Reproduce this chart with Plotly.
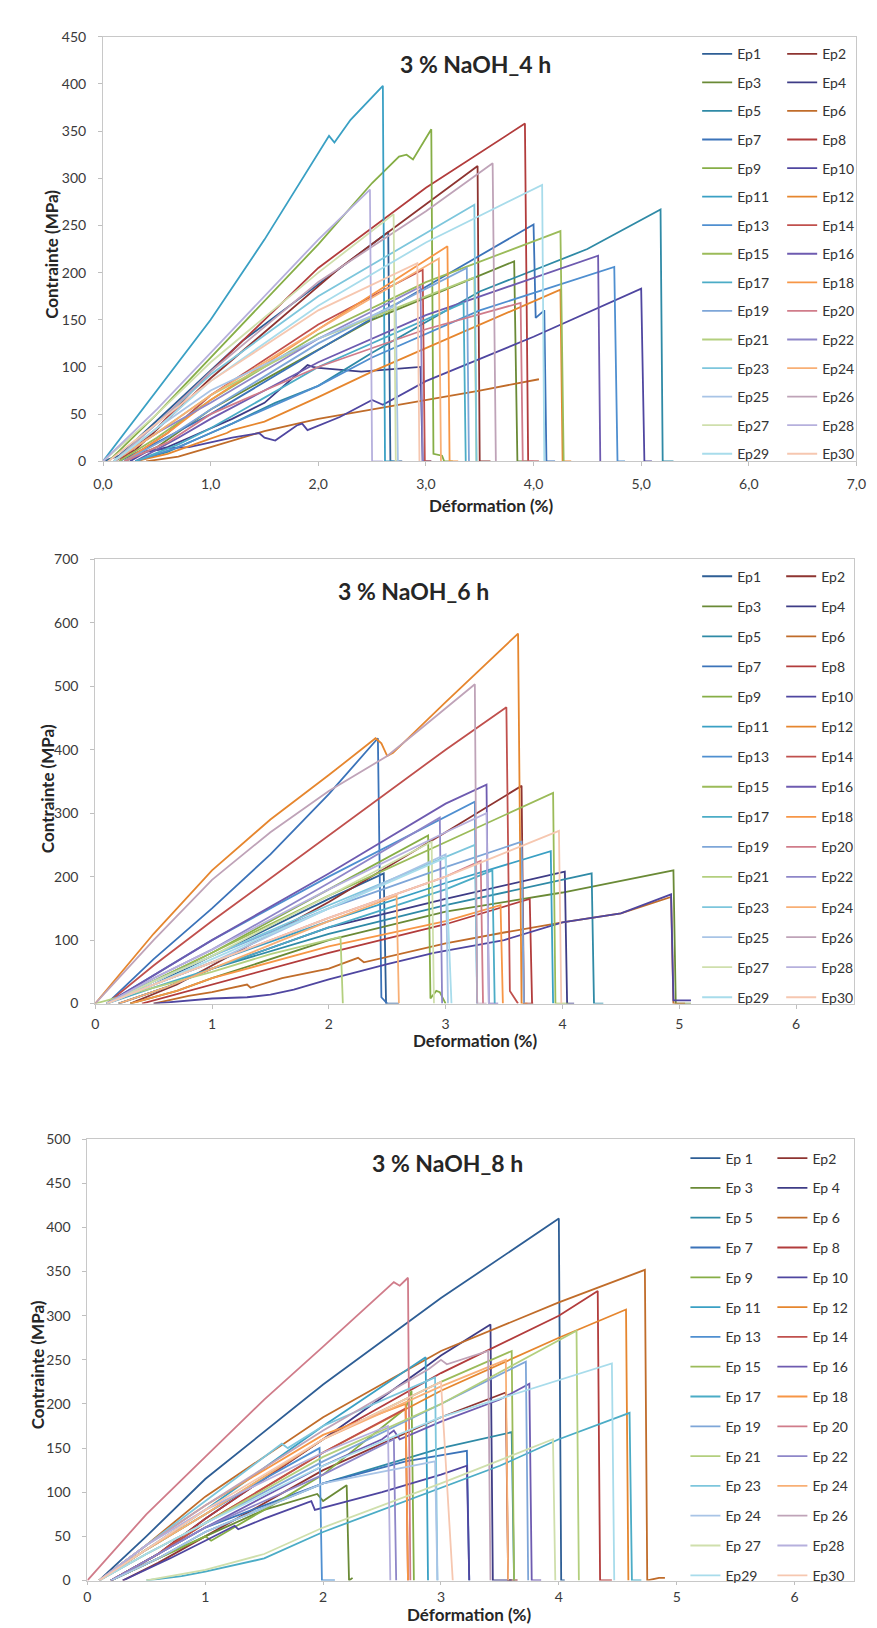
import plotly.graph_objects as go

W, H = 877, 1628

# ---------------- data : 3 % NaOH 4 h ----------------
names_4h = ["Ep1", "Ep2", "Ep3", "Ep4", "Ep5", "Ep6", "Ep7", "Ep8", "Ep9", "Ep10",
            "Ep11", "Ep12", "Ep13", "Ep14", "Ep15", "Ep16", "Ep17", "Ep18", "Ep19", "Ep20",
            "Ep21", "Ep22", "Ep23", "Ep24", "Ep25", "Ep26", "Ep27", "Ep28", "Ep29", "Ep30"]
strain_4h = [
    [0.0, 0.15, 1.3, 2.65, 2.67, 2.78],
    [0.1, 0.3, 1.0, 2.2, 3.48, 3.5, 3.6],
    [0.2, 0.5, 1.0, 2.5, 3.82, 3.85, 3.95],
    [0.2, 0.35, 0.5, 0.6, 0.8, 1.0, 1.2, 1.5, 1.8, 1.9, 1.95, 2.0, 2.4, 2.95, 2.97, 3.05],
    [0.3, 0.6, 0.9, 1.2, 1.6, 2.0, 2.5, 3.5, 4.5, 5.18, 5.2, 5.3],
    [0.4, 0.7, 1.0, 1.2, 1.5, 2.0, 2.5, 3.0, 3.5, 4.05],
    [0.15, 0.5, 1.0, 2.0, 3.0, 4.0, 4.02, 4.1, 4.12, 4.2],
    [0.15, 0.5, 1.0, 2.0, 3.0, 3.92, 3.95, 4.05],
    [0.05, 0.5, 1.0, 1.5, 2.0, 2.5, 2.75, 2.82, 2.88, 3.05, 3.07, 3.15, 3.17, 3.25],
    [0.25, 0.4, 0.6, 0.8, 1.0, 1.2, 1.45, 1.5, 1.6, 1.8, 1.85, 1.9, 2.2, 2.5, 2.6, 3.0, 4.0, 5.0, 5.03, 5.1],
    [0.0, 0.3, 0.7, 1.0, 1.5, 2.1, 2.15, 2.3, 2.6, 2.62, 2.7],
    [0.3, 0.6, 0.9, 1.15, 1.2, 1.5, 2.0, 2.5, 3.0, 3.5, 4.25, 4.27, 4.35],
    [0.3, 0.7, 1.0, 1.5, 2.0, 2.5, 3.5, 4.75, 4.78, 4.85],
    [0.2, 0.6, 1.0, 2.0, 2.97, 2.99, 3.05],
    [0.15, 0.5, 1.0, 2.0, 3.0, 4.25, 4.28],
    [0.3, 0.7, 1.0, 2.0, 3.0, 4.6, 4.62],
    [0.3, 0.7, 1.0, 2.0, 3.35, 3.37],
    [0.2, 0.6, 1.0, 2.0, 3.2, 3.22, 3.3],
    [0.2, 0.6, 1.0, 2.0, 3.38, 3.4],
    [0.2, 0.6, 1.0, 2.0, 3.0, 3.88, 3.9, 4.0],
    [0.1, 0.5, 1.0, 2.0, 3.45, 3.47],
    [0.1, 0.5, 1.0, 2.0, 2.95, 2.97],
    [0.1, 0.5, 1.0, 2.0, 3.45, 3.47],
    [0.1, 0.5, 1.0, 2.0, 3.12, 3.14],
    [0.1, 0.5, 1.0, 2.0, 2.72, 2.74],
    [0.1, 0.5, 1.0, 2.0, 3.0, 3.62, 3.65],
    [0.0, 0.5, 1.0, 2.0, 2.7, 2.72],
    [0.0, 0.5, 1.0, 1.5, 2.0, 2.48, 2.5, 2.6],
    [0.1, 0.5, 1.0, 2.0, 3.0, 4.08, 4.1],
    [0.05, 0.5, 1.0, 2.0, 2.92, 2.94],
]
stress_4h = [
    [0, 6, 128, 243, 0, 0],
    [0, 12, 88, 205, 313, 0, 0],
    [0, 15, 55, 150, 212, 0, 0],
    [0, 10, 12, 15, 25, 35, 45, 62, 92, 102, 100, 99, 95, 100, 0, 0],
    [0, 10, 25, 40, 62, 80, 115, 180, 225, 267, 0, 0],
    [0, 5, 15, 22, 32, 45, 55, 65, 75, 87],
    [0, 20, 50, 118, 185, 251, 152, 160, 0, 0],
    [0, 35, 95, 205, 290, 358, 0, 0],
    [0, 50, 110, 170, 230, 295, 323, 325, 320, 352, 8, 6, 0, 0],
    [0, 10, 14, 15, 20, 25, 30, 25, 22, 38, 40, 33, 47, 65, 60, 85, 132, 183, 0, 0],
    [0, 45, 105, 150, 235, 345, 338, 362, 398, 0, 0],
    [0, 8, 20, 30, 33, 42, 68, 95, 120, 145, 182, 0, 0],
    [0, 15, 30, 55, 80, 110, 160, 206, 0, 0],
    [0, 30, 70, 145, 203, 0, 0],
    [0, 25, 65, 135, 190, 244, 0],
    [0, 25, 45, 105, 155, 218, 0],
    [0, 18, 35, 100, 168, 0],
    [0, 30, 65, 140, 228, 0, 0],
    [0, 25, 55, 125, 205, 0],
    [0, 20, 50, 100, 140, 168, 0, 0],
    [0, 30, 70, 130, 195, 0],
    [0, 30, 62, 130, 185, 0],
    [0, 40, 92, 175, 272, 0],
    [0, 30, 70, 140, 215, 0],
    [0, 35, 75, 130, 165, 0],
    [0, 40, 95, 190, 265, 316, 0],
    [0, 50, 105, 200, 262, 0],
    [0, 55, 115, 175, 235, 288, 0, 0],
    [0, 35, 85, 165, 232, 293, 0],
    [0, 40, 85, 160, 210, 0],
]

# ---------------- data : 3 % NaOH 6 h ----------------
names_6h = ["Ep1", "Ep2", "Ep3", "Ep4", "Ep5", "Ep6", "Ep7", "Ep8", "Ep9", "Ep10",
            "Ep11", "Ep12", "Ep13", "Ep14", "Ep15", "Ep16", "Ep17", "Ep18", "Ep19", "Ep20",
            "Ep21", "Ep22", "Ep23", "Ep24", "Ep25", "Ep26", "Ep27", "Ep28", "Ep29", "Ep30"]
strain_6h = [
    [0.1, 0.5, 1.0, 2.0, 2.47, 2.49, 2.6],
    [0.3, 0.7, 1.0, 2.0, 3.0, 3.65, 3.67, 3.75],
    [0.3, 0.7, 1.0, 2.0, 3.0, 4.0, 4.95, 4.97, 5.1],
    [0.2, 0.6, 1.0, 2.0, 3.0, 4.02, 4.04, 4.1],
    [0.2, 0.6, 1.0, 2.0, 3.0, 4.25, 4.27, 4.35],
    [0.5, 0.8, 1.0, 1.3, 1.33, 1.6, 2.0, 2.25, 2.3, 2.9, 3.0, 3.5, 4.0, 4.5, 4.93, 4.95, 5.05],
    [0.1, 0.5, 1.0, 1.5, 2.0, 2.42, 2.45, 2.5],
    [0.4, 0.8, 1.0, 2.0, 3.0, 3.72, 3.74],
    [0.1, 0.5, 1.0, 2.0, 2.85, 2.87, 2.92, 2.95, 3.0],
    [0.5, 0.8, 1.0, 1.3, 1.5, 1.7, 2.0, 2.5, 2.9, 3.5, 4.0, 4.5, 4.93, 4.95, 5.1],
    [0.1, 0.5, 1.0, 2.0, 3.0, 3.9, 3.92],
    [0.0, 0.5, 1.0, 1.5, 2.0, 2.4, 2.45, 2.5, 2.55, 3.0, 3.62, 3.65, 3.7],
    [0.1, 0.5, 1.0, 2.0, 3.0, 3.25, 3.27],
    [0.1, 0.5, 1.0, 2.0, 3.0, 3.52, 3.55, 3.62],
    [0.1, 0.5, 1.0, 2.0, 3.0, 3.92, 3.94, 4.05],
    [0.1, 0.5, 1.0, 2.0, 3.0, 3.35, 3.37, 3.45],
    [0.1, 0.5, 1.0, 2.0, 3.0, 3.4, 3.42],
    [0.3, 0.7, 1.0, 2.0, 3.0, 3.47, 3.49],
    [0.1, 0.5, 1.0, 2.0, 3.0, 3.65, 3.67],
    [0.1, 0.5, 1.0, 2.0, 3.0, 3.3, 3.32],
    [0.0, 0.5, 1.0, 1.5, 2.1, 2.12],
    [0.1, 0.5, 1.0, 2.0, 2.95, 2.97],
    [0.1, 0.5, 1.0, 2.0, 3.25, 3.27],
    [0.2, 0.6, 1.0, 2.0, 2.58, 2.6],
    [0.1, 0.5, 1.0, 2.0, 3.0, 3.02],
    [0.0, 0.5, 1.0, 1.5, 2.0, 2.5, 2.8, 3.25, 3.27, 3.35],
    [0.1, 0.5, 1.0, 2.0, 2.88, 2.9],
    [0.1, 0.5, 1.0, 2.0, 3.0, 3.35, 3.37],
    [0.1, 0.5, 1.0, 2.0, 3.0, 3.05],
    [0.1, 0.5, 1.0, 2.0, 3.0, 3.97, 3.99],
]
stress_6h = [
    [0, 30, 75, 165, 205, 0, 0],
    [0, 30, 60, 160, 270, 343, 0, 0],
    [0, 20, 40, 100, 145, 175, 210, 0, 0],
    [0, 25, 55, 120, 165, 208, 0, 0],
    [0, 25, 55, 110, 155, 205, 0, 0],
    [0, 12, 18, 30, 25, 40, 55, 72, 65, 90, 95, 112, 128, 142, 168, 0, 0],
    [0, 70, 150, 235, 330, 418, 10, 0],
    [0, 20, 30, 80, 125, 165, 0],
    [0, 35, 80, 180, 265, 8, 20, 18, 0],
    [0, 5, 8, 10, 14, 22, 38, 62, 80, 100, 128, 142, 172, 5, 5],
    [0, 30, 65, 130, 190, 240, 0],
    [0, 110, 210, 290, 360, 418, 410, 390, 395, 475, 583, 0, 0],
    [0, 45, 100, 200, 295, 318, 0],
    [0, 60, 130, 265, 400, 467, 20, 0],
    [0, 35, 80, 170, 255, 332, 0, 0],
    [0, 45, 100, 205, 315, 345, 0, 0],
    [0, 25, 55, 120, 180, 210, 0],
    [0, 20, 40, 90, 130, 155, 0],
    [0, 35, 75, 150, 215, 255, 0],
    [0, 30, 65, 135, 200, 225, 0],
    [0, 25, 50, 78, 105, 0],
    [0, 40, 85, 190, 293, 0],
    [0, 35, 75, 155, 250, 0],
    [0, 25, 55, 130, 170, 0],
    [0, 30, 65, 150, 235, 0],
    [0, 100, 195, 270, 335, 390, 435, 503, 0, 0],
    [0, 35, 75, 170, 255, 0],
    [0, 40, 85, 180, 270, 300, 0],
    [0, 30, 70, 150, 230, 0],
    [0, 30, 65, 135, 200, 272, 0],
]

# ---------------- data : 3 % NaOH 8 h ----------------
names_8h = ["Ep 1", "Ep2", "Ep 3", "Ep 4", "Ep 5", "Ep 6", "Ep 7", "Ep 8", "Ep 9", "Ep 10",
            "Ep 11", "Ep 12", "Ep 13", "Ep 14", "Ep 15", "Ep 16", "Ep 17", "Ep 18", "Ep 19", "Ep 20",
            "Ep 21", "Ep 22", "Ep 23", "Ep 24", "Ep 24", "Ep 26", "Ep 27", "Ep28", "Ep29", "Ep30"]
strain_8h = [
    [0.1, 0.5, 1.0, 2.0, 3.0, 4.0, 4.02, 4.05],
    [0.3, 0.6, 1.0, 2.0, 3.0, 3.55, 3.57, 3.65],
    [0.2, 0.6, 1.0, 1.5, 1.95, 2.0, 2.2, 2.22, 2.25],
    [0.2, 0.6, 1.0, 2.0, 2.9, 3.0, 3.42, 3.44, 3.6],
    [0.2, 0.6, 1.0, 2.0, 3.0, 3.6, 3.62],
    [0.1, 0.5, 1.0, 2.0, 3.0, 4.0, 4.73, 4.75, 4.85, 4.9],
    [0.2, 0.6, 1.0, 2.0, 2.7, 3.22, 3.24],
    [0.2, 0.6, 1.0, 2.0, 3.0, 4.0, 4.33, 4.35, 4.45],
    [0.2, 0.6, 1.0, 1.05, 1.5, 2.0, 2.7, 2.75, 2.77],
    [0.3, 0.7, 1.0, 1.25, 1.28, 1.5, 1.9, 1.93, 2.5, 3.0, 3.22, 3.24],
    [0.1, 0.5, 1.0, 2.0, 2.87, 2.89],
    [0.2, 0.6, 1.0, 2.0, 3.0, 4.0, 4.57, 4.59],
    [0.1, 0.5, 1.0, 1.5, 1.97, 1.99, 2.1],
    [0.2, 0.6, 1.0, 2.0, 2.7, 2.72],
    [0.1, 0.5, 1.0, 2.0, 3.0, 3.6, 3.62],
    [0.2, 0.6, 1.0, 2.0, 2.5, 2.6, 2.65, 3.0, 3.5, 3.75, 3.77, 3.85],
    [0.5, 0.8, 1.0, 1.5, 2.0, 2.5, 3.0, 3.5, 4.0, 4.6, 4.62, 4.7],
    [0.1, 0.5, 1.0, 2.0, 2.7, 2.72],
    [0.1, 0.5, 1.0, 2.0, 3.0, 3.72, 3.74],
    [0.0, 0.5, 1.0, 1.5, 2.0, 2.6, 2.65, 2.72, 2.74],
    [0.1, 0.5, 1.0, 2.0, 3.0, 4.15, 4.17],
    [0.2, 0.6, 1.0, 2.0, 2.6, 2.62],
    [0.1, 0.5, 1.0, 1.65, 1.7, 2.0, 2.95, 2.97],
    [0.1, 0.5, 1.0, 2.0, 3.0, 3.55, 3.57],
    [0.2, 0.6, 1.0, 2.0, 2.95, 2.97],
    [0.1, 0.5, 1.0, 2.0, 2.9, 3.0, 3.05, 3.4, 3.42],
    [0.5, 1.0, 1.5, 2.0, 3.0, 3.95, 3.97],
    [0.1, 0.5, 1.0, 2.0, 2.55, 2.57],
    [0.1, 0.5, 1.0, 2.0, 3.0, 4.45, 4.47],
    [0.1, 0.5, 1.0, 2.0, 3.0, 3.1],
]
stress_8h = [
    [0, 50, 115, 222, 320, 410, 0, 0],
    [0, 20, 50, 125, 185, 213, 0, 0],
    [0, 25, 50, 80, 98, 90, 108, 0, 3],
    [0, 30, 70, 160, 245, 255, 290, 0, 0],
    [0, 25, 55, 110, 150, 168, 0],
    [0, 40, 95, 185, 260, 315, 352, 0, 3, 3],
    [0, 30, 60, 110, 135, 147, 0],
    [0, 30, 70, 160, 235, 300, 328, 0, 0],
    [0, 25, 50, 45, 80, 120, 195, 215, 0],
    [0, 25, 45, 62, 58, 70, 90, 80, 100, 120, 130, 0],
    [0, 35, 80, 175, 253, 0],
    [0, 30, 65, 145, 215, 275, 307, 0],
    [0, 35, 75, 115, 150, 0, 0],
    [0, 30, 65, 145, 195, 0],
    [0, 35, 75, 160, 225, 260, 0],
    [0, 30, 60, 130, 160, 170, 160, 180, 205, 223, 0, 0],
    [0, 5, 10, 25, 55, 80, 105, 130, 160, 190, 0, 0],
    [0, 40, 85, 165, 200, 0],
    [0, 30, 65, 135, 200, 248, 0],
    [0, 75, 140, 205, 265, 338, 334, 343, 0],
    [0, 30, 65, 140, 200, 283, 0],
    [0, 30, 60, 120, 160, 0],
    [0, 40, 90, 155, 150, 175, 230, 0],
    [0, 35, 75, 160, 220, 250, 0],
    [0, 25, 55, 110, 135, 0],
    [0, 40, 85, 170, 240, 250, 245, 260, 0],
    [0, 12, 30, 60, 110, 160, 0],
    [0, 40, 80, 145, 175, 0],
    [0, 30, 65, 130, 185, 246, 0],
    [0, 35, 80, 160, 225, 0],
]

titles = ["3 % NaOH_4 h", "3 % NaOH_6 h", "3 % NaOH_8 h"]
x_titles = ["Déformation (%)", "Deformation (%)", "Déformation (%)"]
y_title = "Contrainte (MPa)"

series_colors = [
    "#2E5E95", "#8E3431", "#6A8A36", "#3E3C86", "#2F8AA6", "#C06C2A",
    "#3B73B9", "#B23C3C", "#86AE46", "#4F46A0", "#3AA0C4", "#E6862E",
    "#4F8FD0", "#C0504D", "#9BBB59", "#6E5BB0", "#4BACC6", "#F79646",
    "#7EA6D8", "#D07C8A", "#B3CF7E", "#8E86C8", "#7DC6DC", "#F8AF75",
    "#A8C4E6", "#BFA3B8", "#CFDFAC", "#B6B0DD", "#A8DCEB", "#F6C7B0",
]

FONT = "Lato, 'Open Sans', sans-serif"

def fx(p):
    return p / W

def fy(p):
    return 1 - p / H

# panel geometry in pixels
panels = [
    dict(strain=strain_4h, stress=stress_4h, names=names_4h, ax="", x0=87, x1=858, xmax=7, yb=449, yt=20, ymax=450, dy=50,
         xfmt=".1f", xstand=6, xlen=4, leg=("legend", "legend2"), legx=(695, 782), leg_first=37, leg_step=28.57,
         title=(468, 47), xt=(485, 494), xt_anchor="middle", yt_pos=(34, 240)),
    dict(strain=strain_6h, stress=stress_6h, names=names_6h, ax="2", x0=79, x1=856, xmax=6.5, yb=997, yt=548, ymax=700, dy=100,
         xfmt="d", xstand=4, xlen=4, leg=("legend3", "legend4"), legx=(695, 781), leg_first=565, leg_step=30.07,
         title=(405, 580), xt=(468, 1034), xt_anchor="middle", yt_pos=(31, 780)),
    dict(strain=strain_8h, stress=stress_8h, names=names_8h, ax="3", x0=71, x1=855, xmax=6.5, yb=1580, yt=1134, ymax=500, dy=50,
         xfmt="d", xstand=1, xlen=3, leg=("legend5", "legend6"), legx=(683, 772), leg_first=1153, leg_step=29.8,
         title=(440, 1158), xt=(462, 1627), xt_anchor="bottom", yt_pos=(20, 1362)),
]

fig = go.Figure()
layout = dict(
    width=W, height=H, margin=dict(l=0, r=0, t=0, b=0),
    paper_bgcolor="white", plot_bgcolor="white",
    separators=", ", font=dict(family=FONT, color="#333333"),
    annotations=[],
)

LEG_FONT = 14
item_h = LEG_FONT * 1.3 + 3

for pi, p in enumerate(panels):
    ax = p["ax"]
    for i in range(30):
        leg = p["leg"][0] if i % 2 == 0 else p["leg"][1]
        fig.add_trace(go.Scatter(
            x=p["strain"][i], y=p["stress"][i], name=p["names"][i], mode="lines",
            line=dict(color=series_colors[i], width=1.8),
            xaxis="x" + ax, yaxis="y" + ax, legend=leg,
            legendgroup=f"p{pi}_{i}", showlegend=True,
        ))
    axis_common = dict(showline=True, linecolor="#C8C8C8", linewidth=1, mirror=True,
                       showgrid=False, zeroline=False, ticks="outside", ticklen=4,
                       tickcolor="#BFBFBF", tickfont=dict(family=FONT, size=14, color="#3A3A3A"))
    layout["xaxis" + ax] = dict(axis_common, domain=[fx(p["x0"]), fx(p["x1"])], range=[0, p["xmax"]],
                                dtick=1, tick0=0, tickformat=p["xfmt"], anchor="y" + ax,
                                ticklabelstandoff=p["xstand"], ticklen=p["xlen"])
    layout["yaxis" + ax] = dict(axis_common, domain=[fy(p["yb"]), fy(p["yt"])], range=[0, p["ymax"]],
                                dtick=p["dy"], tick0=0, anchor="x" + ax, ticklabelstandoff=9)
    gap = p["leg_step"] - item_h
    top = p["leg_first"] - (5 + item_h / 2)
    for k, leg in enumerate(p["leg"]):
        layout[leg] = dict(x=fx(p["legx"][k]), y=fy(top), xanchor="left", yanchor="top",
                           traceorder="grouped", tracegroupgap=gap, bgcolor="rgba(0,0,0,0)",
                           borderwidth=0, font=dict(family=FONT, size=LEG_FONT, color="#333333"))
    layout["annotations"].append(dict(text="<b>" + titles[pi] + "</b>", x=fx(p["title"][0]), y=fy(p["title"][1]),
                                      xref="paper", yref="paper", showarrow=False, xanchor="center", yanchor="middle",
                                      font=dict(family=FONT, size=23, color="#262626")))
    layout["annotations"].append(dict(text="<b>" + x_titles[pi] + "</b>", x=fx(p["xt"][0]), y=fy(p["xt"][1]),
                                      xref="paper", yref="paper", showarrow=False, xanchor="center",
                                      yanchor=p["xt_anchor"],
                                      font=dict(family=FONT, size=17, color="#262626")))
    layout["annotations"].append(dict(text="<b>" + y_title + "</b>", x=fx(p["yt_pos"][0]), y=fy(p["yt_pos"][1]),
                                      xref="paper", yref="paper", showarrow=False, xanchor="center", yanchor="middle",
                                      textangle=-90, font=dict(family=FONT, size=17, color="#262626")))

fig.update_layout(**layout)
fig.write_html("out.html")
